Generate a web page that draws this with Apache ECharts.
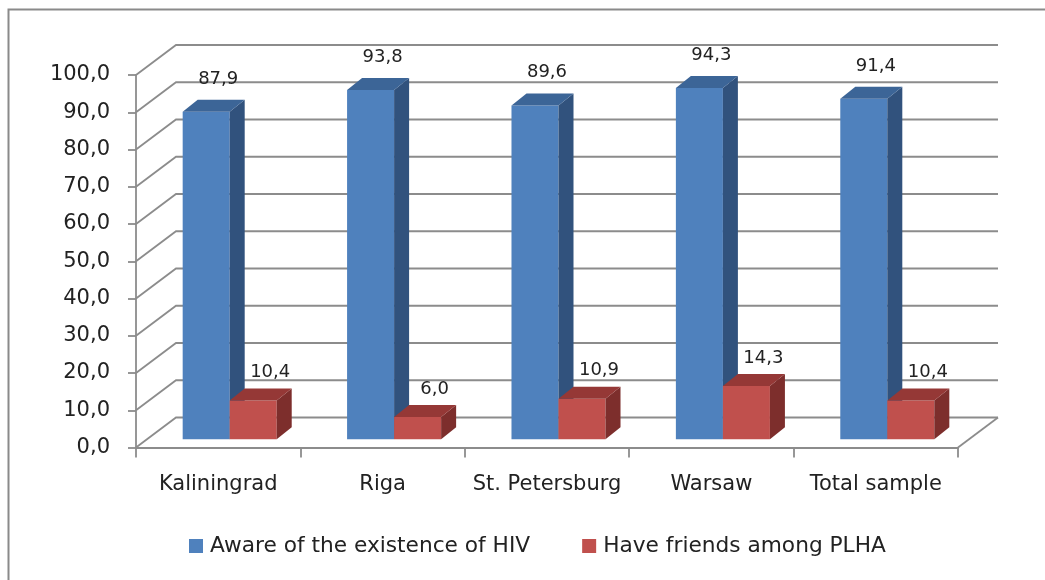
<!DOCTYPE html>
<html>
<head>
<meta charset="utf-8">
<script src="https://cdn.jsdelivr.net/npm/echarts@6/dist/echarts.min.js"></script>
<style>
html,body{margin:0;padding:0;background:#fff;}
#chart{width:1045px;height:580px;}
</style>
</head>
<body>
<div id="chart"></div>
<script>
// ---- data ----
const categories = ['Kaliningrad', 'Riga', 'St. Petersburg', 'Warsaw', 'Total sample'];
const aware = [87.9, 93.8, 89.6, 94.3, 91.4];
const friends = [10.4, 6.0, 10.9, 14.3, 10.4];
const seriesNames = ['Aware of the existence of HIV', 'Have friends among PLHA'];
const yTickValues = [0, 10, 20, 30, 40, 50, 60, 70, 80, 90, 100];

// ---- style constants ----
const FONT = '"DejaVu Sans", sans-serif';
const TEXT = '#222222';
const GRID_COLOR = '#8c8c8c';
const WALL_DX = 40, WALL_DY = -30;      // depth of the floor / back wall
const FRONT_DX = 11.5, FRONT_DY = -8.2; // where bar fronts sit inside the depth
const BAR_DX = 15, BAR_DY = -12;        // bar depth
const BAR_FRAC = 0.286;                 // bar width as fraction of band

const blueColors = {front: '#4F81BD', side: '#31527D', top: '#3C6597'};
const redColors = {front: '#C0504D', side: '#7D2E2C', top: '#953836'};

function fmt(v) { return v.toFixed(1).replace('.', ','); }

function gridRender(params, api) {
  const v = api.value(1);
  const cs = params.coordSys;
  const y = api.coord([0, v])[1];
  const left = cs.x, right = cs.x + cs.width;
  const children = [
    {type: 'polyline', shape: {points: [[left, y], [left + WALL_DX, y + WALL_DY], [right + WALL_DX, y + WALL_DY]]},
     style: {stroke: GRID_COLOR, lineWidth: 1.8, fill: null}}
  ];
  if (v === 0) {
    children.push({type: 'line', shape: {x1: right, y1: y, x2: right + WALL_DX, y2: y + WALL_DY},
      style: {stroke: GRID_COLOR, lineWidth: 1.8}});
  }
  return {type: 'group', children: children};
}

function makeBarRender(side, colors, labelDx, labelDy) {
  return function (params, api) {
    const i = api.value(0), v = api.value(1);
    const base = api.coord([i, 0]);
    const top = api.coord([i, v]);
    const band = api.size([1, 0])[0];
    const w = band * BAR_FRAC;
    const x0 = (side === 0 ? base[0] - w : base[0]) + FRONT_DX;
    const yb = base[1] + FRONT_DY, yt = top[1] + FRONT_DY;
    return {
      type: 'group',
      children: [
        {type: 'rect', shape: {x: x0, y: yt, width: w, height: yb - yt}, style: {fill: colors.front}},
        {type: 'polygon', shape: {points: [[x0 + w, yt], [x0 + w + BAR_DX, yt + BAR_DY], [x0 + w + BAR_DX, yb + BAR_DY], [x0 + w, yb]]},
         style: {fill: colors.side}},
        {type: 'polygon', shape: {points: [[x0, yt], [x0 + BAR_DX, yt + BAR_DY], [x0 + w + BAR_DX, yt + BAR_DY], [x0 + w, yt]]},
         style: {fill: colors.top}},
        {type: 'text', style: {text: fmt(v), x: x0 + w / 2 + labelDx, y: yt - labelDy,
          align: 'center', verticalAlign: 'middle', fill: TEXT, fontSize: 18, fontFamily: FONT}}
      ]
    };
  };
}

const chart = echarts.init(document.getElementById('chart'), null, {renderer: 'canvas'});
chart.setOption({
  animation: false,
  backgroundColor: '#ffffff',
  graphic: [{
    type: 'rect', left: 6, top: 7, z: 100,
    shape: {x: 0, y: 0, width: 1100, height: 640},
    style: {fill: null, stroke: '#8a8a8a', lineWidth: 2}
  }],
  grid: {left: 136, right: 87, top: 75, bottom: 132.5, containLabel: false},
  legend: {
    data: seriesNames,
    left: 189, top: 535, padding: 0,
    icon: 'rect', itemWidth: 14, itemHeight: 14, itemGap: 52,
    textStyle: {fontSize: 21.7, fontFamily: FONT, color: TEXT, padding: [0, 0, 0, 2]}
  },
  xAxis: {
    type: 'category', data: categories,
    axisLine: {show: true, lineStyle: {color: GRID_COLOR, width: 1.8}},
    axisTick: {show: true, length: 10, lineStyle: {color: GRID_COLOR, width: 1.8}},
    axisLabel: {fontSize: 21, fontFamily: FONT, color: TEXT, margin: 27, interval: 0},
    splitLine: {show: false}
  },
  yAxis: {
    type: 'value', min: 0, max: 100, interval: 10,
    axisLine: {show: true, lineStyle: {color: GRID_COLOR, width: 1.8}},
    axisTick: {show: true, length: 8, lineStyle: {color: GRID_COLOR, width: 1.8}},
    axisLabel: {fontSize: 21, fontFamily: FONT, color: TEXT, margin: 26, formatter: fmt},
    splitLine: {show: false}
  },
  series: [
    {
      type: 'custom', name: 'grid', silent: true, clip: false, z: 1,
      renderItem: gridRender,
      data: yTickValues.map(v => [0, v])
    },
    {
      type: 'custom', name: seriesNames[0], clip: false, z: 2,
      itemStyle: {color: blueColors.front},
      renderItem: makeBarRender(0, blueColors, 12, 33),
      data: aware.map((v, i) => [i, v])
    },
    {
      type: 'custom', name: seriesNames[1], clip: false, z: 3,
      itemStyle: {color: redColors.front},
      renderItem: makeBarRender(1, redColors, 17, 28),
      data: friends.map((v, i) => [i, v])
    }
  ]
});
</script>
</body>
</html>
